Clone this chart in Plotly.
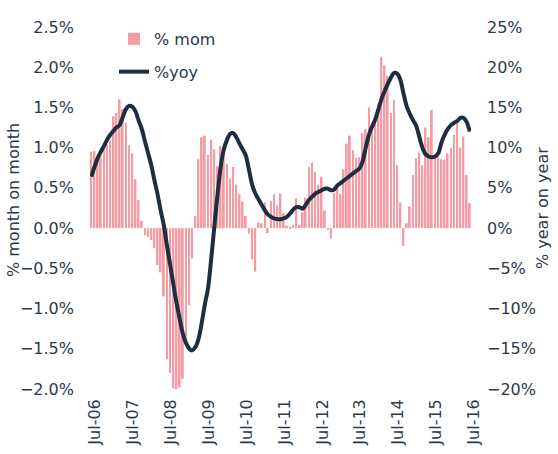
import pandas as pd
import plotly.graph_objects as go

start_month = "2006-07-01"
n_months = 121
months = pd.date_range(start_month, periods=n_months, freq="MS")

mom = [
    0.95, 0.96, 0.89, 0.91, 0.97, 1.04, 1.09, 1.39, 1.43, 1.60,
    1.48, 1.31, 1.03, 0.93, 0.61, 0.35, 0.09, -0.09, -0.11, -0.15,
    -0.25, -0.46, -0.55, -0.85, -1.63, -1.80, -1.99, -2.00, -1.98, -1.87,
    -1.45, -0.96, -0.38, 0.15, 0.86, 1.13, 1.15, 0.91, 1.10, 0.98,
    0.77, 1.02, 0.95, 0.80, 0.62, 0.76, 0.54, 0.42, 0.33, 0.15,
    -0.07, -0.39, -0.54, 0.07, 0.06, 0.32, -0.06, 0.34, 0.42, 0.28,
    0.43, 0.19, 0.03, 0.02, 0.04, 0.37, 0.04, 0.20, 0.38, 0.76,
    0.82, 0.70, 0.54, 0.64, 0.22, -0.02, -0.13, 0.44, 0.49, 0.42,
    0.73, 1.05, 1.15, 0.97, 0.87, 0.88, 1.18, 1.23, 1.50, 1.22,
    1.31, 1.54, 2.13, 2.02, 1.89, 1.43, 1.59, 0.78, 0.32, -0.22,
    0.06, 0.27, 0.66, 0.87, 0.94, 0.78, 1.25, 1.13, 1.47, 0.87,
    0.88, 0.86, 0.85, 0.93, 1.00, 1.16, 1.33, 1.00, 1.14, 0.66,
    0.31,
]

yoy = [
    6.4, 7.6, 8.7, 9.5, 10.2, 11.0, 11.6, 12.1, 12.5, 12.8,
    13.8, 14.8, 15.2, 15.1, 14.5, 13.4, 12.3, 10.8, 9.3, 7.8,
    6.0, 4.2, 2.2, 0.3, -2.2, -4.6, -7.0, -9.3, -11.3, -13.1,
    -14.3, -15.0, -15.2, -14.8, -13.8, -11.8, -9.5, -7.5, -3.8, 0.2,
    4.2, 7.6, 9.8, 11.0, 11.7, 11.8, 11.3, 10.5, 9.8, 9.0,
    7.2, 5.4, 4.3, 3.6, 2.9, 2.2, 1.7, 1.4, 1.2, 1.1,
    1.1, 1.2, 1.4, 1.8, 2.3, 2.6, 2.6, 2.4, 2.9, 3.5,
    3.9, 4.3, 4.5, 4.7, 4.9, 4.9, 4.7, 4.8, 5.3, 5.6,
    5.9, 6.2, 6.5, 6.8, 7.1, 7.4, 8.3, 10.0, 11.6, 12.6,
    13.5, 14.8, 16.0, 17.0, 17.9, 18.7, 19.3, 19.2, 18.4, 16.7,
    15.1, 14.2, 13.4, 12.7, 11.4, 10.0, 9.2, 8.9, 8.8, 8.9,
    9.3, 10.6, 11.6, 12.3, 12.8, 13.1, 13.3, 13.7, 13.7, 13.2,
    12.0,
]

series_names = ["% mom", "%yoy"]
left_title = "% month on month"
right_title = "% year on year"

BAR = "#F59BA3"
LINE = "#1F2E3E"
TXT = "#2B3A4B"
AXIS = "#8A9099"
FONT = "DejaVu Sans"

x_range = [months[0] - pd.Timedelta(days=12), months[-1] + pd.Timedelta(days=12)]
y_left = [-2.0, 2.5]
y_right = [-20, 25]
zero_pos = (0 - y_left[0]) / (y_left[1] - y_left[0])

fig = go.Figure()
fig.add_trace(go.Bar(
    x=months, y=mom, name=series_names[0], marker_color=BAR,
    marker_line_width=0, yaxis="y", xaxis="x", legendgroup="a",
))
fig.add_trace(go.Scatter(
    x=months, y=yoy, name=series_names[1], mode="lines",
    line=dict(color=LINE, width=4, shape="spline", smoothing=0.8),
    yaxis="y2", xaxis="x", legendgroup="b",
))

fig.update_layout(
    width=558, height=454,
    margin=dict(l=90, r=87, t=27, b=65, autoexpand=False),
    plot_bgcolor="white", paper_bgcolor="white",
    bargap=0.38,
    font=dict(family=FONT, size=16, color=TXT),
    showlegend=True,
    legend=dict(
        x=0.063, y=1.014, xanchor="left", yanchor="top",
        font=dict(family=FONT, size=16, color=TXT),
        bgcolor="rgba(0,0,0,0)", traceorder="grouped", tracegroupgap=9,
    ),
    xaxis=dict(
        type="date", range=x_range, domain=[0, 1], anchor="y",
        tick0=start_month, dtick="M12", tickformat="%b-%y",
        tickangle=-90, showline=False, ticks="", showgrid=False,
        zeroline=False, ticklabelshift=4, ticklabelstandoff=6,
        automargin=False,
        tickfont=dict(family=FONT, size=16, color=TXT),
    ),
    xaxis2=dict(
        type="date", range=x_range, overlaying="x", anchor="free",
        position=zero_pos, tick0=start_month, dtick="M12",
        showticklabels=False, showline=True, linecolor=AXIS, linewidth=1,
        ticks="outside", ticklen=5, tickcolor=AXIS, showgrid=False,
        zeroline=False, automargin=False,
        minor=dict(ticks="outside", ticklen=2, tickcolor=AXIS,
                   dtick="M1", tick0=start_month, showgrid=False),
    ),
    yaxis=dict(
        range=y_left, dtick=0.5, tickformat=".1f", ticksuffix="%",
        showgrid=False, zeroline=False, showline=False, ticks="",
        ticklabelstandoff=15, automargin=False,
        tickfont=dict(family=FONT, size=16, color=TXT),
    ),
    yaxis2=dict(
        range=y_right, dtick=5, tickformat=".0f", ticksuffix="%",
        overlaying="y", side="right", anchor="x",
        showgrid=False, zeroline=False, showline=False, ticks="",
        ticklabelstandoff=15, automargin=False,
        tickfont=dict(family=FONT, size=16, color=TXT),
    ),
    annotations=[
        dict(text=left_title, xref="paper", yref="paper", x=0, y=0.5,
             xanchor="center", yanchor="middle", xshift=-77, yshift=8,
             textangle=-90, showarrow=False,
             font=dict(family=FONT, size=16, color=TXT)),
        dict(text=right_title, xref="paper", yref="paper", x=1, y=0.5,
             xanchor="center", yanchor="middle", xshift=71,
             textangle=-90, showarrow=False,
             font=dict(family=FONT, size=16, color=TXT)),
    ],
)

fig.write_html(
    "out.html",
    config={"displayModeBar": False},
    post_script="document.body.style.margin='0';document.body.style.padding='0';",
)
